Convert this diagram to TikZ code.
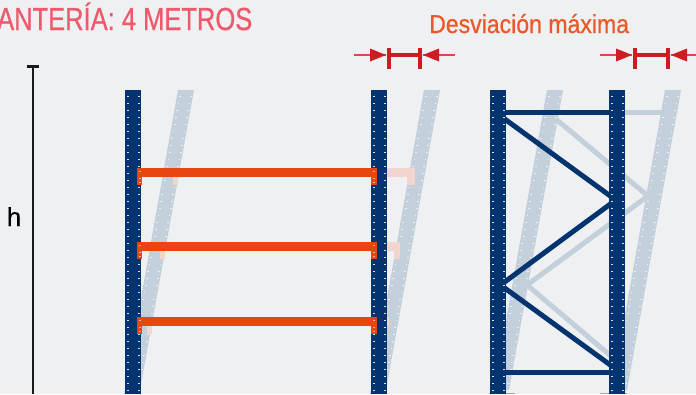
\documentclass[tikz,border=0pt]{standalone}
\usepackage{fontspec}
\setmainfont[FakeStretch=0.8,FakeBold=0.6]{Liberation Sans}
\newfontfamily\fuentedesv[FakeStretch=0.89,FakeBold=0.6]{Liberation Sans}
\newfontfamily\fuenteh[FakeBold=0.3]{Liberation Sans}
\definecolor{fondo}{HTML}{EFF0F2}
\definecolor{marino}{HTML}{03346F}
\definecolor{sombra}{HTML}{C3CFDB}
\definecolor{naranja}{HTML}{E84510}
\definecolor{rosado}{HTML}{F2D5CF}
\definecolor{titulo}{HTML}{EE5A6C}
\definecolor{rojo}{HTML}{CE1C22}
\tikzset{
	x=1bp, y=-1bp,
	montante/.style={fill=marino},
	fantasma/.style={fill=sombra},
	agujero/.style={fill=white!85!marino},
	agujerof/.style={fill=white!70!sombra},
	viga/.style={fill=naranja},
	vigaf/.style={fill=rosado},
	riostra/.style={draw=marino, line width=5bp},
	riostraf/.style={draw=sombra, line width=5bp},
	cota/.style={draw=rojo, line width=3.4bp},
	guia/.style={draw=rojo!80!white, line width=1.4bp},
	flecha/.style={fill=rojo},
}
\newcommand{\vigafrente}[1]{%
	\fill[viga] (137,#1) rectangle (377,#1+9);
	\fill[viga] (137,#1) rectangle (142,#1+17);
	\fill[viga] (371,#1) rectangle (377,#1+17);
}
\newcommand{\medida}[2]{%
	\coordinate (a) at (#1,55);
	\coordinate (b) at (#2,55);
	\draw[guia] ([xshift=-35bp]a) -- ([xshift=-3bp]a);
	\draw[guia] ([xshift=3bp]b) -- ([xshift=35bp]b);
	\fill[flecha] ([xshift=-3bp]a) -- ([xshift=-19bp,yshift=-6.5bp]a) -- ([xshift=-19bp,yshift=6.5bp]a) -- cycle;
	\fill[flecha] ([xshift=3bp]b) -- ([xshift=19bp,yshift=-6.5bp]b) -- ([xshift=19bp,yshift=6.5bp]b) -- cycle;
	\draw[cota] (a) -- (b);
	\draw[cota] ([yshift=7bp]a) -- ([yshift=-14bp]a);
	\draw[cota] ([yshift=7bp]b) -- ([yshift=-14bp]b);
}

\begin{document}
\begin{tikzpicture}

\fill[fondo] (0,0) rectangle (696,394);
\clip (0,0) rectangle (696,394);

\node[anchor=base west, inner sep=0pt, text=titulo, font=\fontsize{32}{32}\selectfont] (titulo) at (-3,30) {ANTERÍA: 4 METROS};
\node[anchor=base west, inner sep=0pt, text=naranja!90!white, font=\fuentedesv\fontsize{26}{26}\selectfont] (desviacion) at (429,33) {Desviación máxima};
\node[inner sep=0pt, font=\fuenteh\fontsize{26}{26}\selectfont, anchor=base] (altura) at (14,226) {h};

\coordinate (altoarriba) at (33,66.5);
\coordinate (altoabajo) at (33,394);
\draw[line width=2.6bp, black!90] (altoarriba) -- (altoabajo);
\draw[line width=2.6bp, black!90] ([xshift=-6bp]altoarriba) -- ([xshift=6bp]altoarriba);

\medida{389}{420}
\medida{635}{668}

\foreach \x in {178,424,547,665}{
	\fill[fantasma] (\x,90) -- (\x+16,90) -- (\x+16-54,390) -- (\x-54,394) -- cycle;
	\foreach \y in {96,103,...,390}{
		\fill[agujerof] (\x+2-.18*\y+16.2,\y) rectangle ++(1.8,1.3);
		\fill[agujerof] (\x+13-.18*\y+16.2,\y) rectangle ++(1.8,1.3);
	}
}

\fill[agujerof] (246.5,145) rectangle ++(1.5,1.5);
\fill[agujerof] (246.5,153) rectangle ++(1.5,1.5);

\draw[riostraf] (620,112.5) -- (668,112.5);
\draw[riostraf] (557,120) -- (648,196) -- (527,285) -- (618,362);

\fill[vigaf] (387,168) rectangle (415,177);
\fill[vigaf] (407,168) rectangle (415,185);
\fill[vigaf] (173,177) rectangle (178,185);
\fill[vigaf] (387,242) rectangle (400,251);
\fill[vigaf] (394,242) rectangle (400,259);
\fill[vigaf] (160,251) rectangle (165,259);
\fill[vigaf] (387,317) rectangle (389,326);
\fill[vigaf] (147,326) rectangle (152,334);

\draw[riostra] (500,112.5) -- (615,112.5);
\draw[riostra] (500,372.5) -- (615,372.5);
\draw[riostra] (500,115.6) -- (615,199.4);
\draw[riostra] (615,200.6) -- (500,285.4);
\draw[riostra] (500,284.6) -- (615,368.4);

\fill[gray!70] (489,392.5) rectangle (515,394);
\fill[gray!70] (600,392.5) rectangle (627,394);

\foreach \x in {125,371,490,609}{
	\fill[montante] (\x,90) rectangle (\x+16,394);
	\foreach \y in {96,103,...,390}{
		\fill[agujero] (\x+2.2,\y) rectangle ++(1.8,1.3);
		\fill[agujero] (\x+13.2,\y) rectangle ++(1.8,1.3);
	}
}

\vigafrente{168}
\vigafrente{242}
\vigafrente{317}

\foreach \y in {171,178,182,245,252,256,320,327,331}{
	\fill[white!60!naranja] (138.5,\y) rectangle ++(2,1.2);
	\fill[white!60!naranja] (373,\y) rectangle ++(2,1.2);
}

\end{tikzpicture}
\end{document}
